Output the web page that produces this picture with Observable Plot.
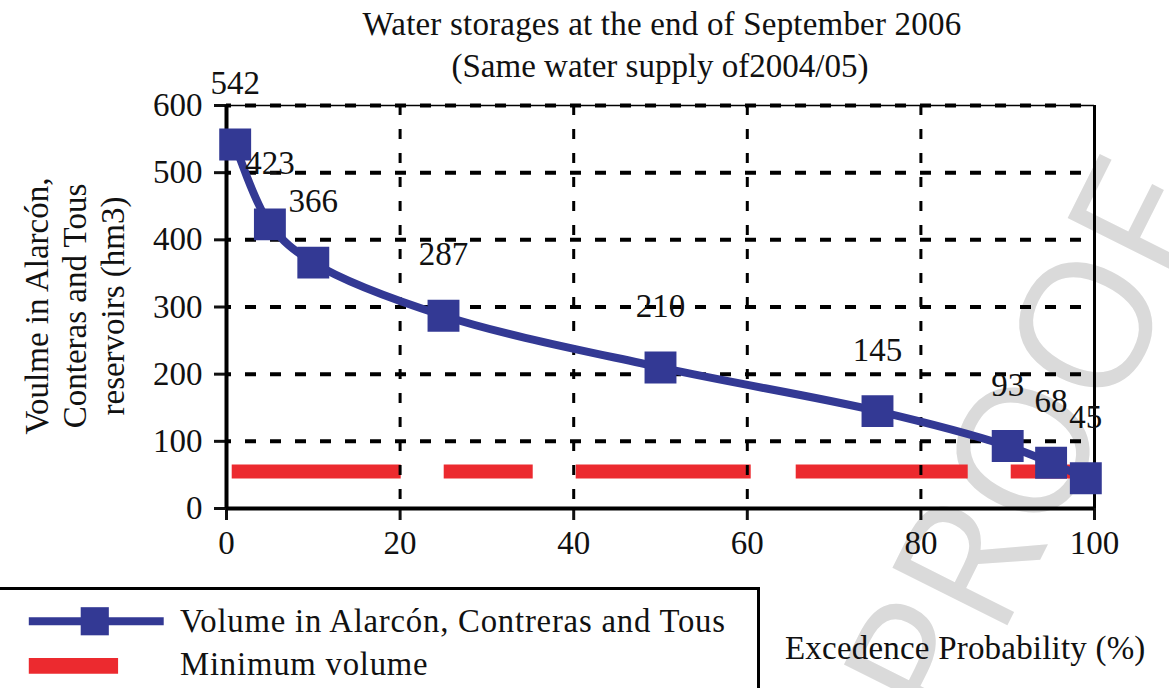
<!DOCTYPE html>
<html>
<head>
<meta charset="utf-8">
<script src="https://cdn.jsdelivr.net/npm/d3@7"></script>
<script src="https://cdn.jsdelivr.net/npm/@observablehq/plot@0.6"></script>
<style>
  html, body { margin: 0; padding: 0; background: #fff; }
  #wrap { position: relative; width: 1169px; height: 688px; overflow: hidden; font-family: "Liberation Serif", "Times New Roman", serif; color: #111; }
  #wrap svg { position: absolute; left: 0; top: 0; background: transparent; }
  .abs { position: absolute; white-space: nowrap; font-size: 33px; line-height: 1; }
  #watermark { position: absolute; left: 1022px; top: 442px; transform: translate(-50%, -50%) rotate(-63.4deg);
    font-family: "Open Sans", sans-serif; font-weight: 400; font-size: 180px; color: #dadada; white-space: nowrap; line-height: 1; }
  #legend { position: absolute; left: -4px; top: 587px; width: 764px; height: 120px; border: 3px solid #000; box-sizing: border-box; }
  #legend text { letter-spacing: 0.8px; }
</style>
</head>
<body>
<div id="wrap">
  <div id="watermark">PROOF</div>
  <div id="chart"></div>
  <div class="abs" id="t1" style="left:662px; top:8px; transform:translateX(-50%); letter-spacing:0.2px;">Water storages at the end of September 2006</div>
  <div class="abs" id="t2" style="left:660px; top:50px; transform:translateX(-50%);">(Same water supply of2004/05)</div>
  <div class="abs" id="ytitle" style="left:75px; top:306px; transform:translate(-50%,-50%) rotate(-90deg); text-align:center; line-height:38px;">Voulme in Alarcón,<br>Conteras and Tous<br>reservoirs (hm3)</div>
  <div class="abs" id="xlabel" style="left:785px; top:632px; letter-spacing:0.2px;">Excedence Probability (%)</div>
  <div id="legend"></div>
</div>
<script>
const seriesNames = ["Volume in Alarcón, Contreras and Tous", "Minimum volume"];
const probability = [1, 5, 10, 25, 50, 75, 90, 95, 99];
const volume = [542, 423, 366, 287, 210, 145, 93, 68, 45];
const minProbability = [0.6, 99];
const minVolume = [55, 55];
const xTicks = [0, 20, 40, 60, 80, 100];
const yTicks = [0, 100, 200, 300, 400, 500, 600];
const xGrid = [20, 40, 60, 80];
const yGrid = [100, 200, 300, 400, 500, 600];

const blue = "#333994";
const red = "#ec2a2f";

const storage = probability.map((p, i) => ({p, v: volume[i]}));
const minimum = minProbability.map((p, i) => ({p, v: minVolume[i]}));

const plot = Plot.plot({
  width: 1169,
  height: 560,
  marginLeft: 226,
  marginRight: 75,
  marginTop: 105,
  marginBottom: 52,
  style: {fontFamily: "'Liberation Serif', 'Times New Roman', serif", fontSize: "33px", color: "#111", background: "transparent"},
  x: {domain: [0, 100]},
  y: {domain: [0, 600]},
  marks: [
    Plot.line(minimum, {x: "p", y: "v", stroke: red, strokeWidth: 14, strokeLinecap: "butt",
      strokeDasharray: "169,43,89,43,175,45,172,43,400"}),
    Plot.gridY(yGrid, {stroke: "#000", strokeOpacity: 1, strokeWidth: 4, strokeDasharray: "11,14", strokeDashoffset: 6}),
    Plot.gridX(xGrid, {stroke: "#000", strokeOpacity: 1, strokeWidth: 3, strokeDasharray: "10,14"}),
    Plot.ruleY([600], {stroke: "#000", strokeWidth: 1.5}),
    Plot.ruleX([100], {stroke: "#000", strokeWidth: 3}),
    Plot.axisX(xTicks, {tickSize: 12, tickPadding: 10, strokeWidth: 3, label: null}),
    Plot.axisY(yTicks, {tickSize: 12, tickPadding: 12, strokeWidth: 3, label: null}),
    Plot.ruleY([0], {stroke: "#000", strokeWidth: 4}),
    Plot.ruleX([0], {stroke: "#000", strokeWidth: 4}),
    Plot.line(storage, {x: "p", y: "v", stroke: blue, strokeWidth: 8, curve: "catmull-rom"}),
    Plot.dot(storage, {x: "p", y: "v", symbol: "square", r: 18, fill: blue, stroke: "none"}),
    Plot.text(storage, {x: "p", y: "v", text: d => String(d.v), dy: -61, fontSize: 33, fill: "#111"})
  ]
});
document.getElementById("chart").appendChild(plot);

const legendItems = [
  {name: seriesNames[0], row: 0},
  {name: seriesNames[1], row: 1}
];
const legend = Plot.plot({
  width: 764,
  height: 120,
  margin: 0,
  style: {fontFamily: "'Liberation Serif', 'Times New Roman', serif", fontSize: "33px", color: "#111", background: "transparent"},
  x: {domain: [0, 764], axis: null},
  y: {domain: [0, 120], axis: null, reverse: true},
  marks: [
    Plot.ruleY([31], {x1: 30, x2: 166, stroke: blue, strokeWidth: 8}),
    Plot.dot([{x: 96, y: 31}], {x: "x", y: "y", symbol: "square", r: 16, fill: blue}),
    Plot.ruleY([76], {x1: 30, x2: 120, stroke: red, strokeWidth: 16}),
    Plot.text(legendItems, {x: 182, y: d => 31 + d.row * 44, text: "name", textAnchor: "start", fontSize: 33, fill: "#111"})
  ]
});
document.getElementById("legend").appendChild(legend);
</script>
</body>
</html>
